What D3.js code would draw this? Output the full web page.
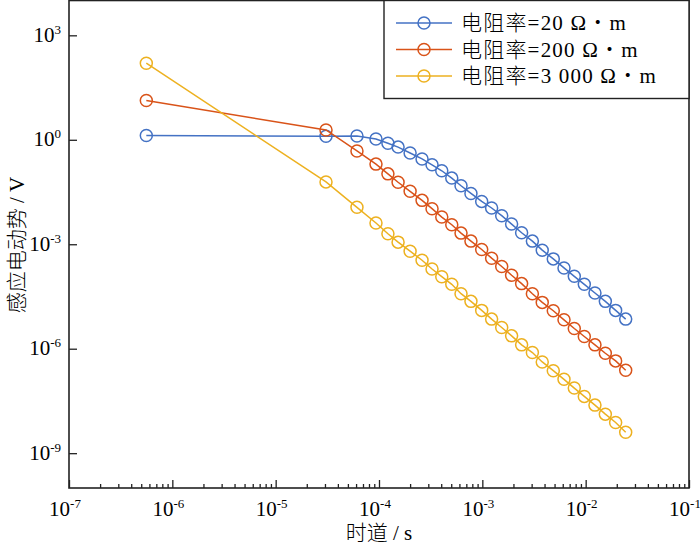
<!DOCTYPE html>
<html>
<head>
<meta charset="utf-8">
<script src="https://cdn.jsdelivr.net/npm/d3@7"></script>
<style>
  html, body { margin: 0; padding: 0; background: #fff; }
  svg { display: block; font-family: "Liberation Serif", "Noto Sans CJK SC", serif; }
  .cjk { font-family: "Noto Sans CJK SC", sans-serif; font-weight: 300; }
</style>
</head>
<body>
<div id="chart"></div>
<script>
// 时道 (s)
const times = [5.6e-7, 3.07e-5, 6.12e-5, 9.35e-5, 1.22e-4, 1.53e-4, 2.0e-4, 2.61e-4, 3.26e-4, 4.05e-4,
  5.06e-4, 6.22e-4, 7.76e-4, 9.86e-4, 1.23e-3, 1.54e-3, 1.92e-3, 2.40e-3, 3.05e-3, 3.80e-3,
  4.86e-3, 6.17e-3, 7.76e-3, 9.70e-3, 1.23e-2, 1.55e-2, 1.95e-2, 2.44e-2];

// 感应电动势 (V)
const rho20 = [1.32, 1.26, 1.29, 1.05, 0.794, 0.617, 0.417, 0.282, 0.191, 0.129,
  0.0794, 0.0479, 0.0288, 0.0170, 0.0110, 6.61e-3, 3.80e-3, 2.14e-3, 1.23e-3, 6.76e-4,
  3.80e-4, 2.09e-4, 1.20e-4, 7.08e-5, 3.98e-5, 2.29e-5, 1.26e-5, 7.08e-6];
const rho200 = [13.5, 1.91, 0.479, 0.200, 0.105, 0.0603, 0.0331, 0.0182, 0.0105, 6.03e-3,
  3.63e-3, 2.09e-3, 1.23e-3, 7.08e-4, 3.98e-4, 2.29e-4, 1.29e-4, 7.41e-5, 3.80e-5, 2.14e-5,
  1.23e-5, 6.76e-6, 3.80e-6, 2.24e-6, 1.29e-6, 7.41e-7, 4.47e-7, 2.40e-7];
const rho3000 = [158, 0.0617, 0.0115, 4.07e-3, 2.00e-3, 1.15e-3, 6.31e-4, 3.47e-4, 1.95e-4, 1.17e-4,
  7.08e-5, 3.80e-5, 2.29e-5, 1.26e-5, 7.08e-6, 4.07e-6, 2.34e-6, 1.29e-6, 7.76e-7, 4.17e-7,
  2.34e-7, 1.32e-7, 7.41e-8, 4.27e-8, 2.40e-8, 1.32e-8, 7.59e-9, 3.98e-9];

const seriesNames = ["电阻率=20 Ω・m", "电阻率=200 Ω・m", "电阻率=3 000 Ω・m"];
const seriesColors = ["#4472C4", "#D95319", "#EDB120"];

const xTickExps = [-7, -6, -5, -4, -3, -2, -1];
const yTickExps = [3, 0, -3, -6, -9];

(() => {
  const width = 700, height = 550;
  const pL = 69, pR = 689, pT = 0.5, pB = 488;

  const svg = d3.select("#chart").append("svg")
    .attr("width", width)
    .attr("height", height);

  const x = d3.scaleLog().domain([1e-7, 1e-1]).range([pL, pR]);
  const y = d3.scaleLog().domain([1e-10, 1e4]).range([pB, pT]);

  const series = [rho20, rho200, rho3000].map((vals, i) => ({
    name: seriesNames[i],
    color: seriesColors[i],
    points: vals.map((v, j) => ({ t: times[j], v: v }))
  }));

  // split a label into CJK runs and Latin runs so each gets its own font
  const isCJK = ch => /[\u4e00-\u9fff\u30fb]/.test(ch);
  function mixedText(sel, str) {
    let run = "", cjk = null;
    const flush = () => {
      if (!run) return;
      sel.append("tspan").attr("class", cjk ? "cjk" : null).text(run);
      run = "";
    };
    for (const ch of str) {
      const c = isCJK(ch);
      if (cjk !== null && c !== cjk) flush();
      cjk = c;
      run += ch;
    }
    flush();
  }

  // minor ticks on x (2..9 per decade)
  const minor = [];
  for (let e = -7; e < -1; e++) for (let k = 2; k <= 9; k++) minor.push(k * Math.pow(10, e));

  const styleTicks = g => {
    g.select(".domain").remove();
    g.selectAll("line").attr("stroke", "#222").attr("stroke-width", 1.3);
  };

  svg.append("g")
    .attr("transform", `translate(0,${pB})`)
    .call(d3.axisBottom(x).tickValues(minor).tickSize(-4).tickFormat(""))
    .call(styleTicks);

  svg.append("g")
    .attr("transform", `translate(0,${pB})`)
    .call(d3.axisBottom(x).tickValues(xTickExps.map(e => Math.pow(10, e))).tickSize(-8).tickFormat(""))
    .call(styleTicks);

  svg.append("g")
    .attr("transform", `translate(${pL},0)`)
    .call(d3.axisLeft(y).tickValues(yTickExps.map(e => Math.pow(10, e))).tickSize(-8).tickFormat(""))
    .call(styleTicks);

  // frame
  svg.append("rect")
    .attr("x", pL).attr("y", pT)
    .attr("width", pR - pL).attr("height", pB - pT)
    .attr("fill", "none").attr("stroke", "#222").attr("stroke-width", 1.6);

  // tick labels
  const xl = svg.append("g").selectAll("text")
    .data(xTickExps).enter().append("text")
    .attr("x", d => x(Math.pow(10, d)) - 4)
    .attr("y", 516)
    .attr("text-anchor", "middle")
    .style("font-size", "21px")
    .attr("fill", "#000");
  xl.append("tspan").text("10");
  xl.append("tspan").attr("dy", -8).style("font-size", "13px").text(d => d);

  const yl = svg.append("g").selectAll("text")
    .data(yTickExps).enter().append("text")
    .attr("x", 61)
    .attr("y", d => y(Math.pow(10, d)) + 6.5)
    .attr("text-anchor", "end")
    .style("font-size", "21px")
    .attr("fill", "#000");
  yl.append("tspan").text("10");
  yl.append("tspan").attr("dy", -8).style("font-size", "13px").text(d => d);

  // lines + markers
  const line = d3.line().x(d => x(d.t)).y(d => y(d.v));

  series.forEach(s => {
    svg.append("path")
      .datum(s.points)
      .attr("d", line)
      .attr("fill", "none")
      .attr("stroke", s.color)
      .attr("stroke-width", 1.5);

    svg.append("g").selectAll("circle")
      .data(s.points).enter().append("circle")
      .attr("cx", d => x(d.t))
      .attr("cy", d => y(d.v))
      .attr("r", 6)
      .attr("fill", "none")
      .attr("stroke", s.color)
      .attr("stroke-width", 1.5);
  });

  // legend
  const legend = svg.append("g");
  legend.append("rect")
    .attr("x", 384).attr("y", pT)
    .attr("width", pR - 384).attr("height", 98)
    .attr("fill", "#fff").attr("stroke", "#222").attr("stroke-width", 1.4);

  series.forEach((s, i) => {
    const cy = 23 + i * 26.5;
    legend.append("line")
      .attr("x1", 396).attr("x2", 452)
      .attr("y1", cy).attr("y2", cy)
      .attr("stroke", s.color).attr("stroke-width", 1.5);
    legend.append("circle")
      .attr("cx", 424).attr("cy", cy).attr("r", 6)
      .attr("fill", "none").attr("stroke", s.color).attr("stroke-width", 1.5);
    legend.append("text")
      .attr("x", 461).attr("y", cy + 7)
      .style("font-size", "21px")
      .style("letter-spacing", "1.2px")
      .attr("fill", "#000")
      .call(t => mixedText(t, s.name));
  });

  // axis titles
  svg.append("text")
    .attr("x", (pL + pR) / 2)
    .attr("y", 540)
    .attr("text-anchor", "middle")
    .style("font-size", "21px")
    .attr("fill", "#000")
    .call(t => mixedText(t, "时道 / s"));

  svg.append("text")
    .attr("transform", "rotate(-90)")
    .attr("x", -245)
    .attr("y", 24)
    .attr("text-anchor", "middle")
    .style("font-size", "21px")
    .attr("fill", "#000")
    .call(t => mixedText(t, "感应电动势 / V"));
})();
</script>
</body>
</html>
